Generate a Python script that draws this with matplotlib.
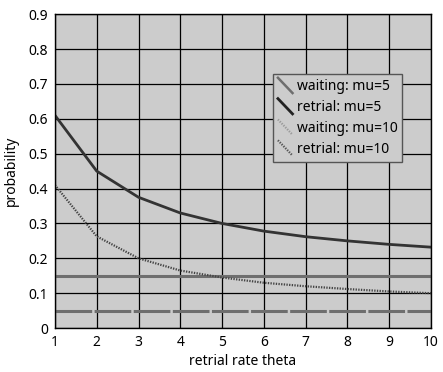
import matplotlib
matplotlib.use("Agg")
import matplotlib.pyplot as plt
from matplotlib.legend_handler import HandlerLine2D
from matplotlib.lines import Line2D

theta = [1, 2, 3, 4, 5, 6, 7, 8, 9, 10]
waiting_mu5 = [0.15] * 10
retrial_mu5 = [0.61, 0.45, 0.375, 0.33, 0.30, 0.278, 0.262, 0.25, 0.24, 0.232]
waiting_mu10 = [0.05] * 10
retrial_mu10 = [0.41, 0.263, 0.20, 0.165, 0.145, 0.13, 0.12, 0.112, 0.105, 0.10]

xticks = list(range(1, 11))
yticks = [0, 0.1, 0.2, 0.3, 0.4, 0.5, 0.6, 0.7, 0.8, 0.9]
ytick_labels = ["0", "0.1", "0.2", "0.3", "0.4", "0.5", "0.6", "0.7", "0.8", "0.9"]

plt.rcParams['font.family'] = ['Noto Sans', 'DejaVu Sans']
FS = 10

fig = plt.figure(figsize=(4.43, 3.72), dpi=100)
ax = fig.add_axes([0.124, 0.118, 0.849, 0.844])
ax.set_facecolor("#cccccc")

ax.set_xlim(1, 10)
ax.set_ylim(0, 0.9)
ax.set_xticks(xticks)
ax.set_yticks(yticks)
ax.set_yticklabels(ytick_labels)
ax.tick_params(length=0, labelsize=FS, pad=5)
ax.grid(True, color="black", linewidth=0.9)
ax.set_axisbelow(True)
for s in ax.spines.values():
    s.set_color("black")
    s.set_linewidth(1.0)

ax.plot(theta, waiting_mu5, color="#6e6e6e", linewidth=2.2, label="waiting: mu=5")
ax.plot(theta, retrial_mu5, color="#333333", linewidth=2.0, label="retrial: mu=5")
ax.plot(theta, waiting_mu10, color="#6e6e6e", linewidth=2.2, linestyle=(0, (12, 0.8)),
        label="waiting: mu=10")
ax.plot(theta, retrial_mu10, color="#444444", linewidth=1.6, linestyle=(0, (0.6, 0.6)),
        label="retrial: mu=10")

ax.set_xlabel("retrial rate theta", fontsize=FS, labelpad=3)
ax.set_ylabel("probability", fontsize=FS, labelpad=7)


class DiagHandler(HandlerLine2D):
    def create_artists(self, legend, orig_handle, xdescent, ydescent, width, height, fontsize, trans):
        line = Line2D([0, width], [height + 2, -2])
        self.update_prop(line, orig_handle, legend)
        line.set_transform(trans)
        return [line]


h1 = Line2D([], [], color="#6e6e6e", linewidth=1.8)
h2 = Line2D([], [], color="#222222", linewidth=2.0)
h3 = Line2D([], [], color="#9a9a9a", linewidth=1.6, linestyle=(0, (0.6, 0.6)))
h4 = Line2D([], [], color="#555555", linewidth=1.6, linestyle=(0, (0.6, 0.6)))
leg = ax.legend([h1, h2, h3, h4],
                ["waiting: mu=5", "retrial: mu=5", "waiting: mu=10", "retrial: mu=10"],
                handler_map={Line2D: DiagHandler()},
                loc="upper left", bbox_to_anchor=(0.58, 0.808),
                fontsize=FS, frameon=True, fancybox=False,
                facecolor="#cccccc", edgecolor="#555555", framealpha=1,
                handlelength=1.05, handletextpad=0.3, borderpad=0.35, labelspacing=0.42,
                borderaxespad=0)
leg.get_frame().set_linewidth(1.0)

fig.savefig("out.png", dpi=100, facecolor="white")
